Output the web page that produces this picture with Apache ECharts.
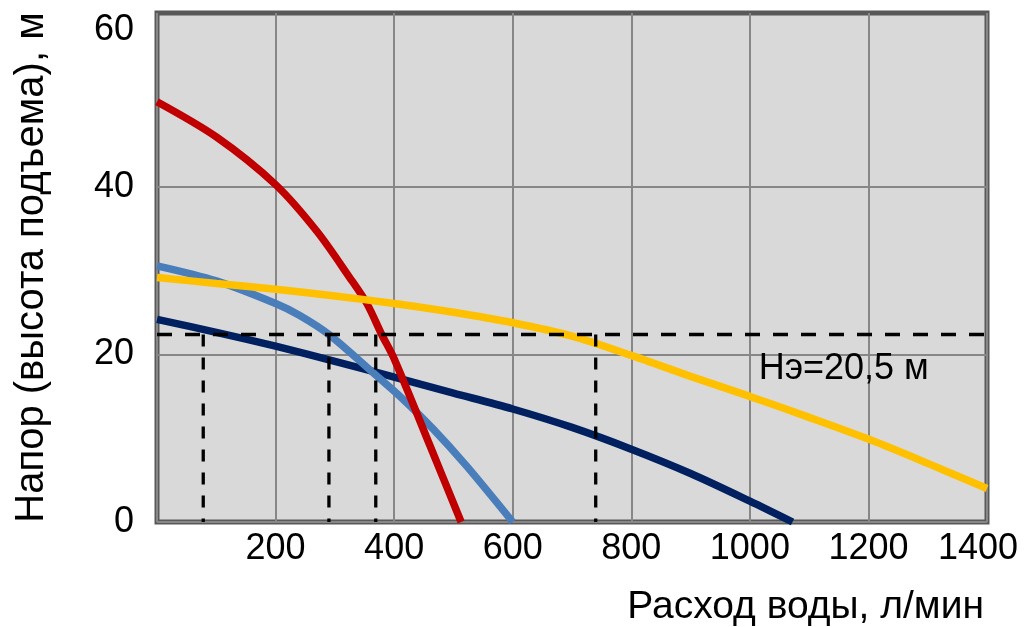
<!DOCTYPE html>
<html>
<head>
<meta charset="utf-8">
<script src="https://cdn.jsdelivr.net/npm/echarts@6/dist/echarts.min.js"></script>
<style>
  html, body { margin: 0; padding: 0; background: #ffffff; }
  #chart { width: 1028px; height: 627px; }
</style>
</head>
<body>
<div id="chart"></div>
<script>
// ---- Data ----
const xTicks = [0, 200, 400, 600, 800, 1000, 1200, 1400];
const yTicks = [0, 20, 40, 60];

const redX = [0, 100, 200, 270, 325, 354, 379, 400, 460, 513];
const redY = [50.2, 46.0, 40.3, 34.7, 29.2, 26.1, 22.4, 19.5, 9.2, 0];

const blueX = [0, 100, 200, 240, 290, 365, 410, 466, 522, 600];
const blueY = [30.6, 28.8, 26.1, 24.7, 22.4, 17.8, 15.0, 11.1, 6.7, 0];

const navyX = [0, 100, 200, 300, 400, 500, 600, 700, 800, 900, 1000, 1072];
const navyY = [24.2, 22.65, 21.0, 19.2, 17.3, 15.4, 13.5, 11.3, 8.7, 5.8, 2.5, 0];

const yellowX = [0, 100, 200, 300, 400, 500, 600, 700, 800, 900, 1000, 1100, 1200, 1300, 1400];
const yellowY = [29.2, 28.5, 27.8, 27.0, 26.1, 25.05, 23.8, 22.2, 19.9, 17.4, 15.0, 12.5, 9.9, 7.0, 4.0];

const headLevel = 22.4;                 // dashed horizontal level
const headLevelRange = [0, 1400];
const dropX = [78, 290, 369, 740];      // dashed vertical drop lines
const noteText = 'Нэ=20,5 м';
const notePos = [1014, 18.3];

const xTitle = 'Расход воды, л/мин';
const yTitle = 'Напор (высота подъема), м';

// ---- Build ----
const FONT = 'Liberation Sans, Arial, sans-serif';
function zip(xs, ys) { return xs.map((x, i) => [x, ys[i]]); }

function curve(name, xs, ys, color, z) {
  return {
    name, type: 'line', data: zip(xs, ys), smooth: 0.3,
    showSymbol: false, symbol: 'none', z,
    lineStyle: { color, width: 7.5 }
  };
}

const series = [
  curve('navy', navyX, navyY, '#002060', 2),
  curve('blue', blueX, blueY, '#4A7EBB', 3),
  curve('red', redX, redY, '#C00000', 4),
  curve('yellow', yellowX, yellowY, '#FFC000', 5),
  {
    name: 'level', type: 'line', z: 6, showSymbol: false, symbol: 'none',
    data: headLevelRange.map(x => [x, headLevel]),
    lineStyle: { color: '#000', width: 3.5, type: [15, 13] },
    markPoint: {
      symbol: 'circle', symbolSize: 1, silent: true,
      itemStyle: { color: 'rgba(0,0,0,0)' },
      label: {
        show: true, position: 'right', distance: 0,
        formatter: noteText, color: '#000', fontSize: 36, fontFamily: FONT
      },
      data: [{ coord: notePos }]
    }
  }
];
dropX.forEach((x, i) => {
  series.push({
    name: 'drop' + i, type: 'line', z: 6, showSymbol: false, symbol: 'none',
    data: [[x, headLevel], [x, 0]],
    lineStyle: { color: '#000', width: 3.3, type: [12, 11] }
  });
});

const chart = echarts.init(document.getElementById('chart'), null, { renderer: 'canvas' });
chart.setOption({
  animation: false,
  backgroundColor: '#ffffff',
  grid: {
    left: 157, right: 41, top: 13, bottom: 100,
    show: true, backgroundColor: '#D9D9D9',
    borderColor: '#595959', borderWidth: 5
  },
  xAxis: {
    type: 'value', min: xTicks[0], max: xTicks[xTicks.length - 1], interval: 200,
    axisLine: { show: false }, axisTick: { show: false },
    splitLine: { show: true, lineStyle: { color: '#878787', width: 2 } },
    axisLabel: {
      color: '#000', fontSize: 36, fontFamily: FONT, margin: 9,
      formatter: v => (v === 0 ? '' : (v === 1400 ? '{r|1400}' : String(v))),
      rich: { r: { color: '#000', fontSize: 36, fontFamily: FONT, padding: [0, 18, 0, 0] } }
    },
    name: xTitle, nameLocation: 'end', nameGap: -3,
    nameTextStyle: {
      color: '#000', fontSize: 39, fontFamily: FONT,
      align: 'right', verticalAlign: 'top', padding: [66, 0, 0, 0]
    }
  },
  yAxis: {
    type: 'value', min: yTicks[0], max: 60.8, interval: 20,
    axisLine: { show: false }, axisTick: { show: false },
    splitLine: {
      show: true,
      lineStyle: { color: ['#878787', '#878787', '#878787', 'rgba(0,0,0,0)', 'rgba(0,0,0,0)'], width: 2 }
    },
    axisLabel: {
      color: '#000', fontSize: 36, fontFamily: FONT, margin: 23,
      formatter: v => (yTicks.indexOf(v) < 0 ? '' : (v === 60 ? '{t|60}' : String(v))),
      rich: { t: { color: '#000', fontSize: 36, fontFamily: FONT, padding: [20, 0, 0, 0] } }
    },
    name: yTitle, nameLocation: 'middle', nameGap: 105,
    nameTextStyle: { color: '#000', fontSize: 40, fontFamily: FONT }
  },
  series
});
</script>
</body>
</html>
